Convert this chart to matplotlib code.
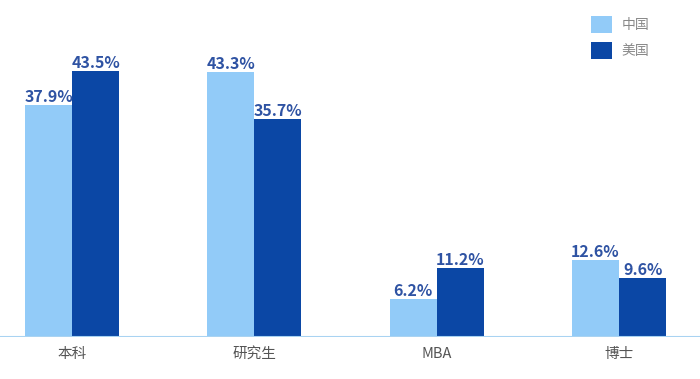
import matplotlib.pyplot as plt
import numpy as np

plt.rcParams['font.family'] = ['Noto Sans CJK SC', 'DejaVu Sans']

categories = ['本科', '研究生', 'MBA', '博士']
china = [37.9, 43.3, 6.2, 12.6]
usa = [43.5, 35.7, 11.2, 9.6]
series_names = ['中国', '美国']

light = '#92cbf8'
dark = '#0b47a5'
label_color = '#2f53a3'

fig = plt.figure(figsize=(7, 3.79), dpi=100)
ax = fig.add_axes([0, 0.111, 1, 0.889])

x = np.arange(len(categories))
w = 0.258
b1 = ax.bar(x - w / 2, china, w, color=light, label=series_names[0])
b2 = ax.bar(x + w / 2, usa, w, color=dark, label=series_names[1])

for bars, vals in [(b1, china), (b2, usa)]:
    for bar, v in zip(bars, vals):
        ax.text(bar.get_x() + bar.get_width() / 2, v, f'{v}%',
                ha='center', va='bottom', fontsize=11.5, color=label_color,
                fontweight='bold')

ax.set_xlim(-0.395, 3.444)
ax.set_ylim(0, 55.1)
ax.axhline(0, color='#a9d3f2', lw=1.5)
for s in ax.spines.values():
    s.set_visible(False)
ax.set_yticks([])
ax.set_xticks(x)
ax.set_xticklabels(categories, fontsize=10.5, color='#555555')
ax.tick_params(axis='x', length=0, pad=7)

leg = ax.legend(loc='upper left', bbox_to_anchor=(0.826, 0.99), frameon=False,
                fontsize=10, handlelength=1.5, handleheight=1.5,
                labelspacing=0.65, handletextpad=0.7)
for t in leg.get_texts():
    t.set_color('#888888')

fig.savefig('out.png', dpi=100)
